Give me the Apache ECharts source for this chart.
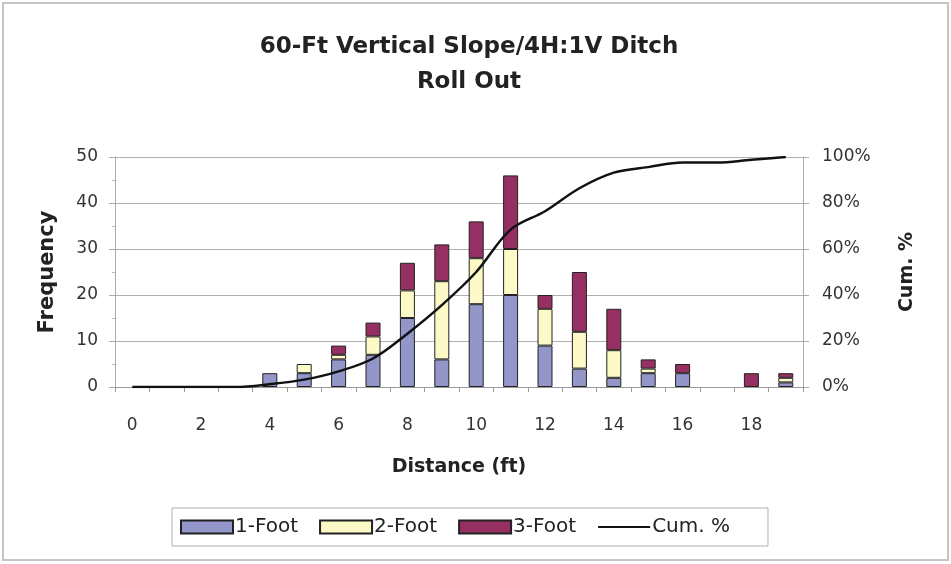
<!DOCTYPE html>
<html>
<head>
<meta charset="utf-8">
<script src="https://cdn.jsdelivr.net/npm/echarts@6/dist/echarts.min.js"></script>
<style>html,body{margin:0;padding:0;background:#fff}#c{width:951px;height:564px}</style>
</head>
<body>
<div id="c"></div>
<script>
const categories = ['0','1','2','3','4','5','6','7','8','9','10','11','12','13','14','15','16','17','18','19'];
const oneFoot   = [0,0,0,0,3,3,6,7,15,6,18,20,9,4,2,3,3,0,0,1];
const twoFoot   = [0,0,0,0,0,2,1,4,6,17,10,10,8,8,6,1,0,0,0,1];
const threeFoot = [0,0,0,0,0,0,2,3,6,8,8,16,3,13,9,2,2,0,3,1];
const cumPct    = [0,0,0,0,1.2,3.2,6.8,12.4,23.2,35.6,50,68.4,76.4,86.4,93.2,95.6,97.6,97.6,98.8,100];
const leftTicks = [0,10,20,30,40,50];
const rightTicks = ['0%','20%','40%','60%','80%','100%'];

const FONT = '"DejaVu Sans", "Liberation Sans", Arial, sans-serif';
const chart = echarts.init(document.getElementById('c'), null, {renderer: 'canvas'});
const z = v => v === 0 ? null : v;
const barStyle = c => ({color: c, borderColor: '#222', borderWidth: 1});

chart.setOption({
  animation: false,
  backgroundColor: '#fff',
  textStyle: {fontFamily: FONT},
  graphic: [{
    type: 'rect', shape: {x: 3, y: 3, width: 945, height: 557},
    style: {fill: 'none', stroke: '#c4c4c4', lineWidth: 2}, silent: true
  }],
  title: {
    text: '60-Ft Vertical Slope/4H:1V Ditch\nRoll Out',
    left: 464, top: 25, textAlign: 'center',
    textStyle: {fontFamily: FONT, fontSize: 23, fontWeight: 'bold', color: '#222', lineHeight: 35}
  },
  legend: {
    left: 172, top: 508,
    padding: [9, 38, 9, 8],
    itemGap: 21, itemWidth: 52, itemHeight: 13,
    borderColor: '#b0b0b0', borderWidth: 1,
    textStyle: {fontFamily: FONT, fontSize: 20, color: '#222', padding: [0, 0, 0, -3]},
    data: [
      {name: '1-Foot', icon: 'rect'},
      {name: '2-Foot', icon: 'rect'},
      {name: '3-Foot', icon: 'rect'},
      {name: 'Cum. %', itemStyle: {opacity: 0}}
    ]
  },
  grid: {left: 115, right: 148, top: 157, bottom: 177, containLabel: false},
  xAxis: {
    type: 'category', data: categories, boundaryGap: true,
    name: 'Distance (ft)', nameLocation: 'middle', nameGap: 71,
    nameTextStyle: {fontFamily: FONT, fontSize: 19, fontWeight: 'bold', color: '#222'},
    axisLine: {lineStyle: {color: '#999', width: 1}},
    axisTick: {show: true, alignWithLabel: false, interval: 0, length: 5, lineStyle: {color: '#999'}},
    axisLabel: {interval: 1, margin: 30, fontSize: 17, color: '#333', fontFamily: FONT},
    splitLine: {show: false}
  },
  yAxis: [{
    type: 'value', min: leftTicks[0], max: leftTicks[leftTicks.length - 1], interval: 10,
    name: 'Frequency', nameLocation: 'middle', nameGap: 57, nameRotate: 90,
    nameTextStyle: {fontFamily: FONT, fontSize: 21, fontWeight: 'bold', color: '#222'},
    axisLine: {show: true, lineStyle: {color: '#aaa'}},
    axisTick: {show: true, length: 6, lineStyle: {color: '#aaa'}},
    minorTick: {show: true, splitNumber: 2, length: 3, lineStyle: {color: '#bbb'}},
    axisLabel: {fontSize: 17, color: '#333', margin: 17, fontFamily: FONT},
    splitLine: {show: true, lineStyle: {color: '#b0b0b0', width: 1}}
  }, {
    type: 'value', min: 0, max: 100, interval: 20, position: 'right',
    name: 'Cum. %', nameLocation: 'middle', nameGap: 95, nameRotate: 90,
    nameTextStyle: {fontFamily: FONT, fontSize: 19, fontWeight: 'bold', color: '#222'},
    axisLine: {show: true, lineStyle: {color: '#aaa'}},
    axisTick: {show: true, length: 6, lineStyle: {color: '#aaa'}},
    axisLabel: {fontSize: 17, color: '#333', margin: 19, fontFamily: FONT,
      formatter: v => rightTicks[Math.round(v / 20)]},
    splitLine: {show: false}
  }],
  series: [
    {name: '1-Foot', type: 'bar', stack: 's', barWidth: 15, data: oneFoot.map(z), itemStyle: barStyle('#9296c9')},
    {name: '2-Foot', type: 'bar', stack: 's', barWidth: 15, data: twoFoot.map(z), itemStyle: barStyle('#fdfac8')},
    {name: '3-Foot', type: 'bar', stack: 's', barWidth: 15, data: threeFoot.map(z), itemStyle: barStyle('#973062')},
    {name: 'Cum. %', type: 'line', yAxisIndex: 1, data: cumPct, smooth: 0.35, symbol: 'none',
      lineStyle: {color: '#111', width: 2.5}, itemStyle: {color: '#111'}, z: 5}
  ]
});
</script>
</body>
</html>
